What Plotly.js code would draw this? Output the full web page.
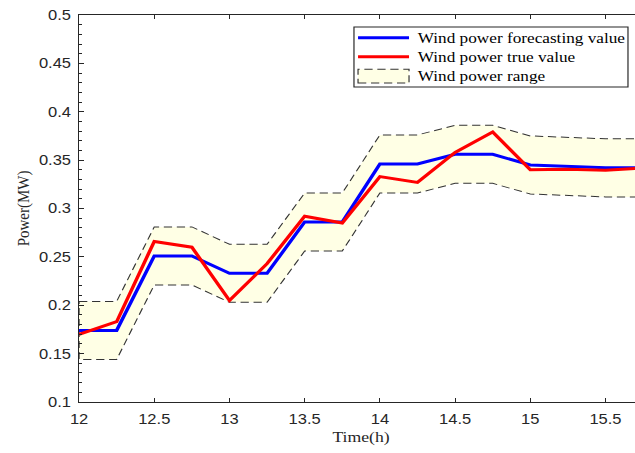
<!DOCTYPE html>
<html>
<head>
<meta charset="utf-8">
<script src="https://cdn.plot.ly/plotly-3.0.1.min.js"></script>
<style>
  html, body { margin: 0; padding: 0; overflow: hidden; background: #fff; width: 635px; height: 453px; }
  /* the figure is drawn slightly narrow and widened horizontally */
  #chart { width: 546px; height: 453px; transform: scaleX(1.18); transform-origin: 0 0; }
</style>
</head>
<body>
<div id="chart"></div>
<script>
// Time of day, in hours (15-minute steps)
const timeH = [12, 12.25, 12.5, 12.75, 13, 13.25, 13.5, 13.75,
               14, 14.25, 14.5, 14.75, 15, 15.25, 15.5, 15.75];

// Forecast wind power (MW)
const forecastMW = [0.174, 0.174, 0.251, 0.251, 0.233, 0.233, 0.286, 0.286,
                    0.346, 0.346, 0.356, 0.356, 0.345, 0.3435, 0.342, 0.342];

// Measured wind power (MW)
const trueMW = [0.170, 0.183, 0.266, 0.260, 0.205, 0.243, 0.292, 0.285,
                0.333, 0.327, 0.358, 0.379, 0.340, 0.3405, 0.3395, 0.342];

// Upper and lower edges of the forecast band (MW)
const upperMW = [0.204, 0.204, 0.281, 0.281, 0.263, 0.263, 0.316, 0.316,
                 0.376, 0.376, 0.386, 0.386, 0.375, 0.3735, 0.372, 0.372];
const lowerMW = [0.144, 0.144, 0.221, 0.221, 0.203, 0.203, 0.256, 0.256,
                 0.316, 0.316, 0.326, 0.326, 0.315, 0.3135, 0.312, 0.312];

const xTicks = [12, 12.5, 13, 13.5, 14, 14.5, 15, 15.5];
const yTicks = [0.1, 0.15, 0.2, 0.25, 0.3, 0.35, 0.4, 0.45, 0.5];

const seriesNames = ['Wind power forecasting value', 'Wind power true value', 'Wind power range'];

// closed outline of the band: upper edge forward, lower edge back
const bandX = timeH.concat(timeH.slice().reverse()).concat([timeH[0]]);
const bandY = upperMW.concat(lowerMW.slice().reverse()).concat([upperMW[0]]);

const axisColor = '#262626';
const sans = 'Liberation Sans, Arial, sans-serif';
const serif = 'Liberation Serif, Times New Roman, serif';
const blue = '#0000ff', red = '#ff0000';
const bandFill = 'rgb(255,255,229)', bandLine = '#333333', bandDash = '7px,4px';

const traces = [
  {
    x: bandX, y: bandY, type: 'scatter', mode: 'lines', name: seriesNames[2],
    fill: 'toself', fillcolor: bandFill,
    line: { color: bandLine, width: 1, dash: bandDash }
  },
  {
    x: timeH, y: forecastMW, type: 'scatter', mode: 'lines', name: seriesNames[0],
    line: { color: blue, width: 3 }
  },
  {
    x: timeH, y: trueMW, type: 'scatter', mode: 'lines', name: seriesNames[1],
    line: { color: red, width: 3 }
  }
];

// boxed key in the upper right, in paper coordinates
const key = { x0: 0.4874, x1: 0.9732, y0: 0.814, y1: 0.969,
              sx0: 0.4946, sx1: 0.5850, tx: 0.5956,
              rows: [0.941, 0.892, 0.842], half: 0.018 };

const shapes = [
  { type: 'rect', xref: 'paper', yref: 'paper', x0: key.x0, x1: key.x1, y0: key.y0, y1: key.y1,
    fillcolor: '#ffffff', line: { color: axisColor, width: 1 } },
  { type: 'line', xref: 'paper', yref: 'paper', x0: key.sx0, x1: key.sx1, y0: key.rows[0], y1: key.rows[0],
    line: { color: blue, width: 3 } },
  { type: 'line', xref: 'paper', yref: 'paper', x0: key.sx0, x1: key.sx1, y0: key.rows[1], y1: key.rows[1],
    line: { color: red, width: 3 } },
  { type: 'rect', xref: 'paper', yref: 'paper', x0: key.sx0, x1: key.sx1,
    y0: key.rows[2] - key.half, y1: key.rows[2] + key.half,
    fillcolor: bandFill, line: { color: bandLine, width: 1, dash: bandDash } }
];

const annotations = seriesNames.map((name, i) => ({
  xref: 'paper', yref: 'paper', x: key.tx, y: key.rows[i],
  xanchor: 'left', yanchor: 'middle', showarrow: false,
  text: name, font: { family: serif, size: 14.6, color: '#000000' }
}));

const layout = {
  width: 546, height: 453,
  margin: { l: 67, r: 1, t: 15, b: 51 },
  paper_bgcolor: '#ffffff', plot_bgcolor: '#ffffff',
  showlegend: false,
  shapes: shapes,
  annotations: annotations,
  xaxis: {
    range: [12, 15.75], tickmode: 'array', tickvals: xTicks,
    showgrid: false, zeroline: false,
    showline: true, linecolor: axisColor, linewidth: 1, mirror: 'ticks',
    ticks: 'inside', ticklen: 4, tickcolor: axisColor, tickwidth: 1,
    tickfont: { family: sans, size: 14, color: axisColor },
    ticklabelstandoff: 4,
    title: { text: 'Time(h)', font: { family: serif, size: 15, color: axisColor }, standoff: 5 }
  },
  yaxis: {
    range: [0.1, 0.5], tickmode: 'array', tickvals: yTicks,
    showgrid: false, zeroline: false,
    showline: true, linecolor: axisColor, linewidth: 1, mirror: 'ticks',
    ticks: 'inside', ticklen: 4, tickcolor: axisColor, tickwidth: 1,
    minor: { dtick: 0.01, ticks: 'inside', ticklen: 2.5, tickcolor: axisColor, showgrid: false },
    tickfont: { family: sans, size: 14, color: axisColor },
    ticklabelstandoff: 3,
    title: { text: 'Power(MW)', font: { family: serif, size: 15, color: axisColor }, standoff: 4 }
  }
};

Plotly.newPlot('chart', traces, layout, { displayModeBar: false, staticPlot: true });
</script>
</body>
</html>
